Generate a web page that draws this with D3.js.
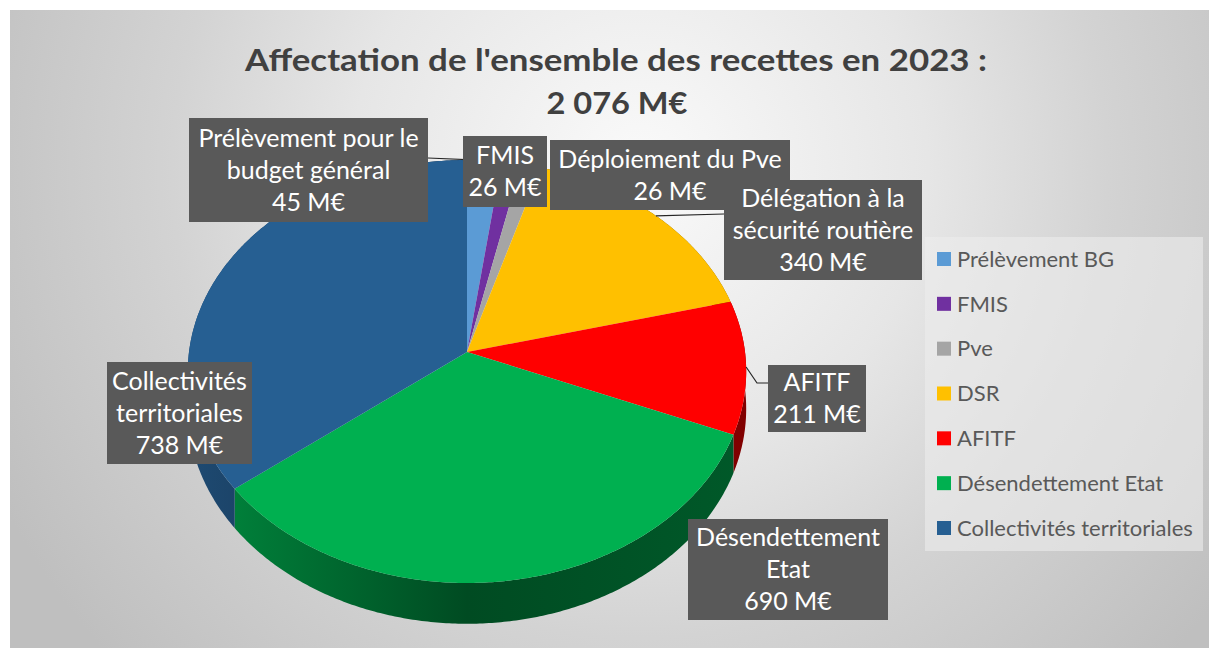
<!DOCTYPE html>
<html>
<head>
<meta charset="utf-8">
<script src="https://cdn.jsdelivr.net/npm/d3@7"></script>
<style>
  body { margin: 0; background: #fff; }
  svg { display: block; font-family: Lato, "DejaVu Sans", sans-serif; }
</style>
</head>
<body>
<div id="chart"></div>
<script>
// chart values
var categories = ["Prélèvement BG", "FMIS", "Pve", "DSR", "AFITF", "Désendettement Etat", "Collectivités territoriales"];
var labelNames = [["Prélèvement pour le", "budget général"], ["FMIS"], ["Déploiement du Pve"],
                  ["Délégation à la", "sécurité routière"], ["AFITF"], ["Désendettement", "Etat"],
                  ["Collectivités", "territoriales"]];
var values = [45, 26, 26, 340, 211, 690, 738];
var colors = ["#5b9bd5", "#7030a0", "#a5a5a5", "#ffc000", "#ff0000", "#00b050", "#265f92"];
var titleText = "Affectation de l'ensemble des recettes en 2023 :";

var width = 1209, height = 654;

var fr = d3.formatLocale({decimal: ",", thousands: " ", grouping: [3], currency: ["", " M€"]});
var fmt = fr.format(",d");

var svg = d3.select("#chart").append("svg")
    .attr("width", width)
    .attr("height", height);

var defs = svg.append("defs");

// chart area background
var bg = defs.append("radialGradient")
    .attr("id", "bg")
    .attr("gradientUnits", "userSpaceOnUse")
    .attr("cx", 640).attr("cy", 170).attr("r", 720);
bg.append("stop").attr("offset", 0).attr("stop-color", "#fafafa");
bg.append("stop").attr("offset", 0.4).attr("stop-color", "#e6e6e6");
bg.append("stop").attr("offset", 0.65).attr("stop-color", "#d3d3d3");
bg.append("stop").attr("offset", 1).attr("stop-color", "#bfbfbf");

svg.append("rect")
    .attr("x", 10).attr("y", 10)
    .attr("width", width - 10).attr("height", 638)
    .attr("fill", "url(#bg)");

// title
svg.append("text")
    .attr("x", 616).attr("y", 71)
    .attr("text-anchor", "middle")
    .attr("textLength", 742).attr("lengthAdjust", "spacingAndGlyphs")
    .style("font-size", "31px").style("font-weight", "bold")
    .attr("fill", "#404040")
    .text(titleText);

svg.append("text")
    .attr("x", 617).attr("y", 114)
    .attr("text-anchor", "middle")
    .attr("textLength", 141).attr("lengthAdjust", "spacingAndGlyphs")
    .style("font-size", "31px").style("font-weight", "bold")
    .attr("fill", "#404040")
    .text(fmt(d3.sum(values)) + " M€");

// 3d pie: projection of the disc
var cx = 467, cy = 352, rx = 278, ry = 209.7, persp = 0.0922, depth = 37;

function proj(t, d) {
    var w = 1 + persp * Math.cos(t);
    return [cx + rx * Math.sin(t) / w, cy - ry * Math.cos(t) / w + (d || 0) / w];
}

function arcPts(a0, a1, d) {
    var n = Math.max(2, Math.ceil((a1 - a0) / 0.01));
    return d3.range(n + 1).map(function (i) { return proj(a0 + (a1 - a0) * i / n, d); });
}

var pie = d3.pie().sort(null).value(function (d) { return d; });
var slices = pie(values);
var line = d3.line();

// side gradients
slices.forEach(function (s, i) {
    var g = defs.append("linearGradient")
        .attr("id", "side" + i)
        .attr("gradientUnits", "userSpaceOnUse")
        .attr("x1", cx - rx).attr("x2", cx + rx)
        .attr("y1", 0).attr("y2", 0);
    var c = d3.color(colors[i]);
    g.append("stop").attr("offset", 0).attr("stop-color", c.darker(0.7));
    g.append("stop").attr("offset", 0.5).attr("stop-color", c.darker(2.4));
    g.append("stop").attr("offset", 1).attr("stop-color", c.darker(1.9));
});

var pieG = svg.append("g");

pieG.selectAll("path.side")
    .data(slices)
    .enter().append("path")
    .attr("class", "side")
    .attr("d", function (d) {
        var top = arcPts(d.startAngle, d.endAngle, 0);
        var bot = arcPts(d.startAngle, d.endAngle, depth).reverse();
        return line(top.concat(bot)) + "Z";
    })
    .attr("fill", function (d, i) { return "url(#side" + i + ")"; });

pieG.selectAll("path.top")
    .data(slices)
    .enter().append("path")
    .attr("class", "top")
    .attr("d", function (d) {
        return line([[cx, cy]].concat(arcPts(d.startAngle, d.endAngle, 0))) + "Z";
    })
    .attr("fill", function (d, i) { return colors[i]; });

// data labels
var boxes = [
    {x: 189, y: 118, w: 239, h: 104},
    {x: 463, y: 136, w: 84, h: 71},
    {x: 550, y: 140, w: 240, h: 70},
    {x: 724, y: 180, w: 198, h: 100},
    {x: 768, y: 365, w: 98, h: 67},
    {x: 688, y: 519, w: 200, h: 101},
    {x: 107, y: 362, w: 145, h: 102}
];

function mid(d) { return (d.startAngle + d.endAngle) / 2; }

var leaders = svg.append("g")
    .attr("fill", "none")
    .attr("stroke", "#262626")
    .attr("stroke-width", 1.2);

var p0 = proj(mid(slices[0]), 0);
leaders.append("path").attr("d", line([[428, 158], p0]));
var p3 = proj(mid(slices[3]), 0);
leaders.append("path").attr("d", line([[724, 214], p3]));
var p4 = proj(mid(slices[4]), 0);
leaders.append("path").attr("d", line([[768, 383], [757, 383], p4]));

var lab = svg.selectAll("g.lab")
    .data(slices)
    .enter().append("g")
    .attr("class", "lab");

lab.append("rect")
    .attr("x", function (d, i) { return boxes[i].x; })
    .attr("y", function (d, i) { return boxes[i].y; })
    .attr("width", function (d, i) { return boxes[i].w; })
    .attr("height", function (d, i) { return boxes[i].h; })
    .attr("fill", "#595959");

lab.append("text")
    .attr("text-anchor", "middle")
    .attr("fill", "#fff")
    .style("font-size", "25px")
    .each(function (d, i) {
        var b = boxes[i];
        var lines = labelNames[i].concat([d.value + " M€"]);
        var lh = 32;
        var y0 = b.y + b.h / 2 - (lines.length - 1) * lh / 2;
        d3.select(this).selectAll("tspan")
            .data(lines)
            .enter().append("tspan")
            .attr("x", b.x + b.w / 2)
            .attr("y", function (t, j) { return y0 + j * lh; })
            .attr("dy", "0.35em")
            .text(function (t) { return t; });
    });

// legend
var legend = svg.append("g");
legend.append("rect")
    .attr("x", 925).attr("y", 237)
    .attr("width", 278).attr("height", 314)
    .attr("fill", "#ececec").attr("fill-opacity", 0.6);

var ly = d3.scalePoint().domain(categories).range([259, 528]);

var item = legend.selectAll("g.item")
    .data(categories)
    .enter().append("g")
    .attr("class", "item")
    .attr("transform", function (d) { return "translate(937," + ly(d) + ")"; });

item.append("rect")
    .attr("x", 0).attr("y", -7)
    .attr("width", 14).attr("height", 14)
    .attr("fill", function (d, i) { return colors[i]; });

item.append("text")
    .attr("x", 20).attr("dy", "0.35em")
    .attr("fill", "#595959")
    .style("font-size", "22px")
    .text(function (d) { return d; });
</script>
</body>
</html>
